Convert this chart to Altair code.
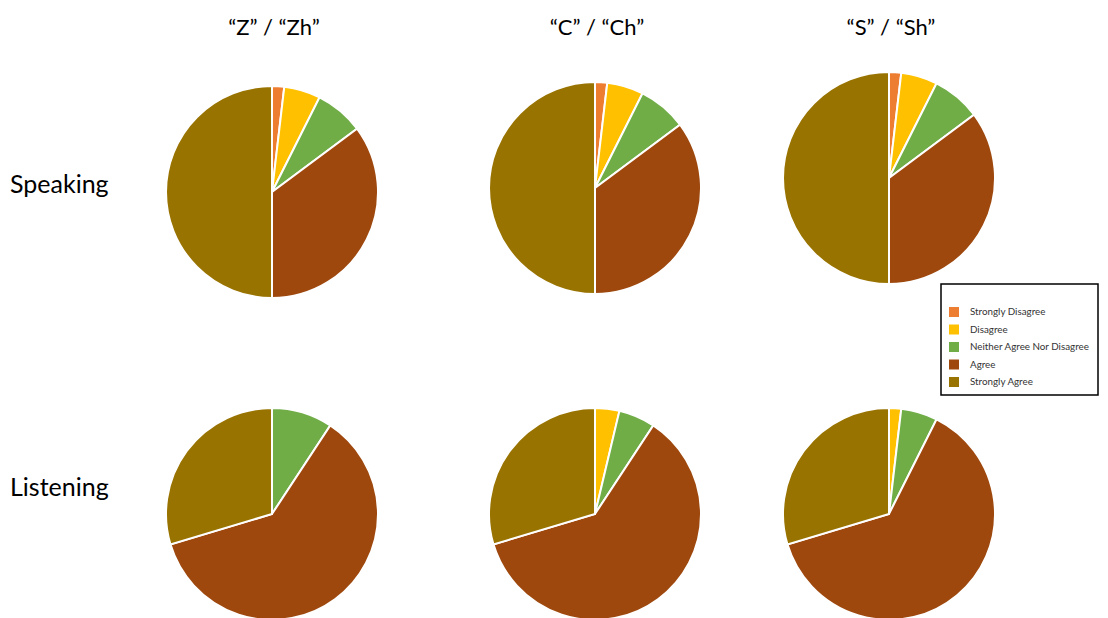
import altair as alt
import pandas as pd

# ---- data ----
sounds = ["“Z” / “Zh”", "“C” / “Ch”", "“S” / “Sh”"]
skills = ["Speaking", "Listening"]
categories = ["Strongly Disagree", "Disagree", "Neither Agree Nor Disagree",
              "Agree", "Strongly Agree"]
colors = ["#ED7D31", "#FFC000", "#70AD47", "#9E480E", "#997300"]

speaking_z = [1, 3, 4, 19, 27]
speaking_c = [1, 3, 4, 19, 27]
speaking_s = [1, 3, 4, 19, 27]
listening_z = [0, 0, 5, 33, 16]
listening_c = [0, 2, 3, 33, 16]
listening_s = [0, 1, 3, 34, 16]

series = {
    ("Speaking", sounds[0]): speaking_z,
    ("Speaking", sounds[1]): speaking_c,
    ("Speaking", sounds[2]): speaking_s,
    ("Listening", sounds[0]): listening_z,
    ("Listening", sounds[1]): listening_c,
    ("Listening", sounds[2]): listening_s,
}

rows = []
for (skill, sound), vals in series.items():
    for i, (cat, v) in enumerate(zip(categories, vals)):
        rows.append({"skill": skill, "sound": sound, "category": cat,
                     "idx": i, "count": v})
df = pd.DataFrame(rows)

# ---- layout (chart coordinates) ----
col_x = {sounds[0]: 264, sounds[1]: 587, sounds[2]: 881}
row_y = {"Speaking": {sounds[0]: 184, sounds[1]: 180, sounds[2]: 170},
         "Listening": {sounds[0]: 506, sounds[1]: 506, sounds[2]: 506}}
FONT = "Lato"

layers = []
for skill in skills:
    for sound in sounds:
        layers.append(
            alt.Chart(df)
            .transform_filter((alt.datum.skill == skill) & (alt.datum.sound == sound))
            .mark_arc(radius=106, stroke="white", strokeWidth=2)
            .encode(
                theta=alt.Theta("count:Q", stack=True),
                order=alt.Order("idx:Q", sort="ascending"),
                color=alt.Color(
                    "category:N",
                    scale=alt.Scale(domain=categories, range=colors),
                    sort=categories,
                    legend=alt.Legend(
                        title=" ", titleFontSize=11, titlePadding=4, orient="none",
                        legendX=933, legendY=276,
                        strokeColor="black",
                        padding=8, symbolType="square", symbolSize=100,
                        symbolStrokeWidth=0, labelFontSize=9.8, labelFont=FONT,
                        labelColor="#333333", rowPadding=7.5, labelOffset=11,
                        fillColor="white",
                    ),
                ),
                x=alt.value(col_x[sound]),
                y=alt.value(row_y[skill][sound]),
            )
        )

for sound in sounds:
    layers.append(
        alt.Chart(pd.DataFrame({"t": [sound]}))
        .mark_text(font=FONT, fontSize=22, color="black", align="center", baseline="middle")
        .encode(text="t:N", x=alt.value(col_x[sound] + 2), y=alt.value(20))
    )

label_y = {"Speaking": 177, "Listening": 480}
for skill in skills:
    layers.append(
        alt.Chart(pd.DataFrame({"t": [skill]}))
        .mark_text(font=FONT, fontSize=25, color="black", align="left", baseline="middle")
        .encode(text="t:N", x=alt.value(2), y=alt.value(label_y[skill]))
    )

chart = (
    alt.layer(*layers)
    .properties(width=1092, height=600, padding=0)
    .configure_view(stroke=None)
    .configure_legend(strokeWidth=1.5)
)

chart.save("out.html", embed_options={"renderer": "svg", "actions": False})
